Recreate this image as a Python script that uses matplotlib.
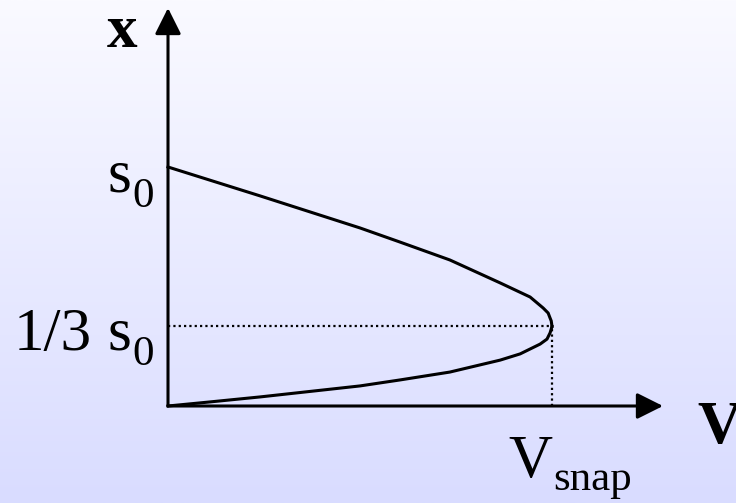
import numpy as np
import matplotlib
matplotlib.use('Agg')
import matplotlib.pyplot as plt

# curve: V normalised to V_snap, x normalised to s0
v_upper = [0.0, 0.240, 0.500, 0.604, 0.734, 0.865, 0.943, 0.977, 0.990, 0.995, 0.998, 1.0]
x_upper = [1.0, 0.879, 0.745, 0.686, 0.611, 0.515, 0.456, 0.410, 0.389, 0.368, 0.356, 0.333]
v_lower = [1.0, 0.995, 0.987, 0.969, 0.917, 0.865, 0.734, 0.604, 0.500, 0.240, 0.109, 0.0]
x_lower = [0.333, 0.306, 0.280, 0.259, 0.218, 0.192, 0.142, 0.109, 0.084, 0.038, 0.017, 0.0]

v_snap = 1.0
x_snap = 1.0 / 3

W, H = 736, 503
# pixel frame: origin at (168, 406), V_snap -> 384 px, s0 -> 239 px
ox, oy, sx, sy = 168, 406, 384, 239
xlim = (-ox / sx, (W - ox) / sx)
ylim = ((oy - H) / sy, oy / sy)

fig = plt.figure(figsize=(W / 100, H / 100), dpi=100)
ax = fig.add_axes([0, 0, 1, 1])
ax.set_xlim(*xlim)
ax.set_ylim(*ylim)
ax.axis('off')

# background gradient, white-ish at top to lavender at bottom
top = np.array([250, 250, 255]) / 255
bot = np.array([217, 220, 255]) / 255
t = np.linspace(0, 1, 256)[:, None]
grad = (top * (1 - t) + bot * t)[:, None, :]
ax.imshow(grad, extent=[xlim[0], xlim[1], ylim[0], ylim[1]], aspect='auto', zorder=0)

lw = 2.2
# axes with arrows
ax.annotate('', xy=((663 - ox) / sx, 0), xytext=(0, 0),
            arrowprops=dict(arrowstyle='-|>,head_length=0.8,head_width=0.4', lw=lw, color='black',
                            mutation_scale=20, shrinkA=0, shrinkB=0))
ax.annotate('', xy=(0, (oy - 8) / sy), xytext=(0, 0),
            arrowprops=dict(arrowstyle='-|>,head_length=0.8,head_width=0.4', lw=lw, color='black',
                            mutation_scale=20, shrinkA=0, shrinkB=0))

# curve
ax.plot(v_upper, x_upper, color='black', lw=lw, solid_joinstyle='round', zorder=3)
ax.plot(v_lower, x_lower, color='black', lw=lw, solid_joinstyle='round', zorder=3)

# dotted guides
ax.plot([0, v_snap], [x_snap, x_snap], color='black', lw=1.6, linestyle=(0, (1, 1.4)), zorder=2)
ax.plot([v_snap, v_snap], [0, x_snap], color='black', lw=1.6, linestyle=(0, (1, 1.4)), zorder=2)

font = 'Liberation Serif'
big = 44
small = 31

def px(x, y):
    return (x - ox) / sx, (oy - y) / sy

ax.text(*px(122, 47), 'x', fontsize=big, fontweight='bold', family=font, ha='center', va='baseline')
ax.text(*px(697, 443), 'V', fontsize=big, fontweight='bold', family=font, ha='left', va='baseline')

ax.text(*px(108, 192), 's', fontsize=big, family=font, ha='left', va='baseline')
ax.text(*px(132, 207), '0', fontsize=small, family=font, ha='left', va='baseline')

ax.text(*px(14, 350), '1/3', fontsize=big, family=font, ha='left', va='baseline')
ax.text(*px(108, 350), 's', fontsize=big, family=font, ha='left', va='baseline')
ax.text(*px(132, 365), '0', fontsize=small, family=font, ha='left', va='baseline')

ax.text(*px(508, 477), 'V', fontsize=big, family=font, ha='left', va='baseline')
ax.text(*px(553, 490), 'snap', fontsize=small, family=font, ha='left', va='baseline')

fig.savefig('out.png', dpi=100)
